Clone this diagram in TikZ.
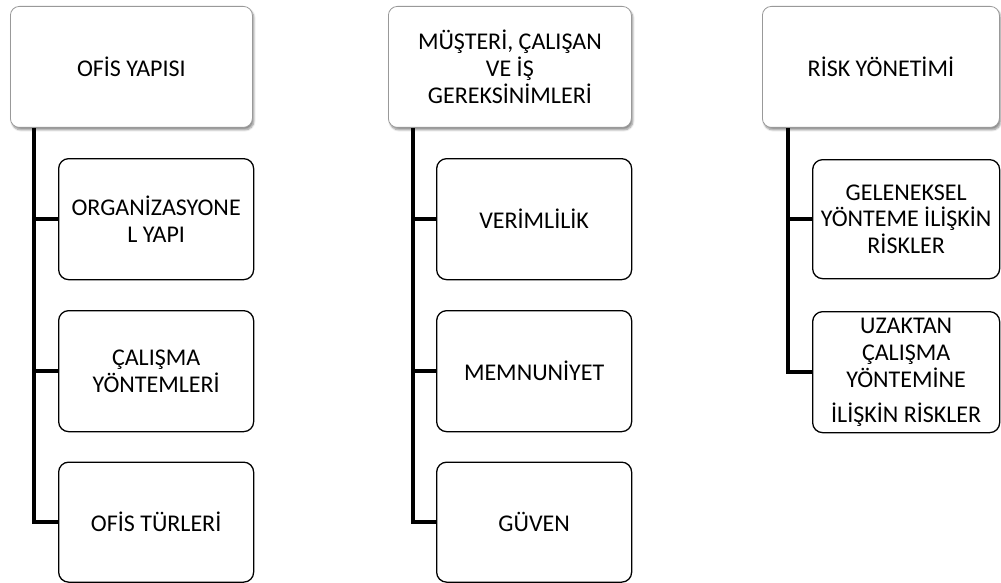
\documentclass[tikz,border=0pt]{standalone}
\usepackage{fontspec}
\setmainfont{Carlito}
\usetikzlibrary{shadows.blur}

\begin{document}
\begin{tikzpicture}[x=1pt, y=-1pt, font=\fontsize{24}{26.8}\selectfont,
    topbox/.style={draw=black!40, line width=0.8pt, rounded corners=9pt, fill=white, align=center,
      anchor=north west, inner sep=1pt, minimum height=121pt,
      blur shadow={shadow xshift=1.5pt, shadow yshift=-2.5pt, shadow blur steps=6, shadow opacity=45}},
    subbox/.style={draw=black, line width=1.3pt, rounded corners=10pt, fill=white, align=center,
      anchor=north west, inner sep=1pt, minimum height=121pt},
    trunk/.style={line width=4.5pt}]
  \useasboundingbox (0,0) rectangle (1001,583);
  % column 1
  \node[topbox, minimum width=242pt] (ofis) at (10,6) {OFİS YAPISI};
  \node[subbox, minimum width=195pt] (org) at (58,158) {ORGANİZASYONE\\L YAPI};
  \node[subbox, minimum width=195pt] (cal) at (58,310) {ÇALIŞMA\\YÖNTEMLERİ};
  \node[subbox, minimum width=195pt, minimum height=120pt] (tur) at (58,461.5) {OFİS TÜRLERİ};
  % column 2
  \node[topbox, minimum width=243pt] (mus) at (388,6) {MÜŞTERİ, ÇALIŞAN\\VE İŞ\\GEREKSİNİMLERİ};
  \node[subbox, minimum width=195pt] (ver) at (436,158) {VERİMLİLİK};
  \node[subbox, minimum width=195pt] (mem) at (436,310) {MEMNUNİYET};
  \node[subbox, minimum width=195pt, minimum height=120pt] (guv) at (436,461.5) {GÜVEN};
  % column 3
  \node[topbox, minimum width=237pt] (risk) at (762,6) {RİSK YÖNETİMİ};
  \node[subbox, minimum width=187pt, minimum height=119pt] (gel) at (812,159) {GELENEKSEL\\YÖNTEME İLİŞKİN\\RİSKLER};
  \node[subbox, minimum width=187pt] (uza) at (812,311) {UZAKTAN\\ÇALIŞMA\\YÖNTEMİNE\\[8pt]İLİŞKİN RİSKLER};

  % trunks
  \coordinate (t1) at ([xshift=24pt]ofis.south west);
  \coordinate (t2) at ([xshift=25pt]mus.south west);
  \coordinate (t3) at ([xshift=26pt]risk.south west);
  \draw[trunk] (t1) |- (tur.west);
  \draw[trunk] (t2) |- (guv.west);
  \draw[trunk] (t3) |- (uza.west);
  \foreach \t/\c in {t1/org, t1/cal, t2/ver, t2/mem, t3/gel}
    \draw[trunk] (\t |- \c.west) -- (\c.west);
\end{tikzpicture}
\end{document}
